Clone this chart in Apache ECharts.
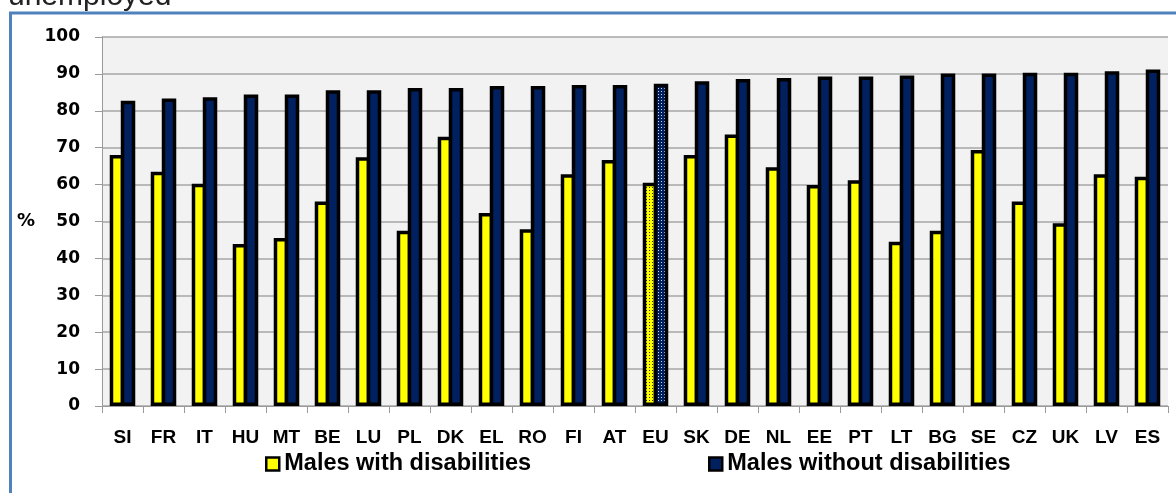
<!DOCTYPE html>
<html>
<head>
<meta charset="utf-8">
<script src="https://cdn.jsdelivr.net/npm/echarts@6/dist/echarts.min.js"></script>
<style>
html,body{margin:0;padding:0;background:#fff;}
#chart{width:1176px;height:493px;}
</style>
</head>
<body>
<div id="chart"></div>
<script>
const categories = ['SI','FR','IT','HU','MT','BE','LU','PL','DK','EL','RO','FI','AT','EU','SK','DE','NL','EE','PT','LT','BG','SE','CZ','UK','LV','ES'];
const withDisab = [68.0,63.5,60.2,43.9,45.5,55.4,67.4,47.5,73.0,52.3,47.9,62.8,66.7,60.5,68.0,73.6,64.7,59.9,61.2,44.5,47.5,69.4,55.4,49.5,62.8,62.1];
const withoutDisab = [82.7,83.3,83.7,84.4,84.4,85.6,85.6,86.2,86.2,86.7,86.7,87.0,87.0,87.3,88.0,88.6,88.9,89.3,89.3,89.6,90.1,90.1,90.3,90.3,90.7,91.2];
const yTicks = [0,10,20,30,40,50,60,70,80,90,100];
const seriesNames = ['Males with disabilities','Males without disabilities'];
const highlight = 'EU';

function pattern(bg, dot){
  const c = document.createElement('canvas');
  c.width = 3; c.height = 3;
  const g = c.getContext('2d');
  g.fillStyle = bg; g.fillRect(0,0,3,3);
  g.fillStyle = dot; g.fillRect(1,1,1,1);
  return {image: c, repeat: 'repeat'};
}
const YELLOW = '#ffff00', NAVY = '#002060';
const yellowPat = pattern(YELLOW, '#333300');
const navyPat = pattern(NAVY, '#c8d4ff');

function mk(vals, pat){
  return vals.map((v,i)=> categories[i]===highlight ? {value:v, itemStyle:{color:pat}} : v);
}

const chart = echarts.init(document.getElementById('chart'), null, {renderer:'canvas'});
const legendText = {fontFamily:'Liberation Sans, Arial, sans-serif', fontWeight:'bold', fontSize:23.5, color:'#000'};
const legendCommon = {icon:'rect', itemWidth:13, itemHeight:13, itemGap:0, padding:0,
  textStyle:legendText, itemStyle:{borderColor:'#000', borderWidth:2.5}};
chart.setOption({
  animation:false,
  backgroundColor:'#ffffff',
  grid:{left:102, right:8, top:37, bottom:87, show:true, backgroundColor:'#f2f2f2', borderWidth:0},
  xAxis:{
    type:'category', data:categories,
    axisLine:{show:true, lineStyle:{color:'#9a9a9a', width:1}},
    axisTick:{show:true, length:7, lineStyle:{color:'#9a9a9a'}},
    axisLabel:{margin:22, color:'#000', fontWeight:'bold', fontSize:19, fontFamily:'Liberation Sans, Arial, sans-serif', interval:0}
  },
  yAxis:{
    type:'value', min:0, max:100, interval:10,
    axisLine:{show:true, lineStyle:{color:'#9a9a9a'}},
    axisTick:{show:true, length:7, lineStyle:{color:'#9a9a9a'}},
    splitLine:{show:true, lineStyle:{color:'#a6a6a6', width:1.5}},
    axisLabel:{margin:22, color:'#000', fontWeight:'bold', fontSize:17, fontFamily:'DejaVu Sans, sans-serif',
      formatter:v=> yTicks.includes(v) ? String(v) : ''}
  },
  legend:[
    Object.assign({data:[seriesNames[0]], left:265, top:452}, legendCommon),
    Object.assign({data:[seriesNames[1]], left:708, top:452}, legendCommon)
  ],
  series:[
    {name:seriesNames[0], type:'bar', data:mk(withDisab, yellowPat), barWidth:14.5, barGap:'-24%',
      itemStyle:{color:YELLOW, borderColor:'#000', borderWidth:3.5}},
    {name:seriesNames[1], type:'bar', data:mk(withoutDisab, navyPat), barWidth:14.5, barGap:'-24%',
      itemStyle:{color:NAVY, borderColor:'#000', borderWidth:3.5}}
  ],
  graphic:[
    {type:'rect', shape:{x:10.5, y:13, width:1300, height:700}, style:{fill:'none', stroke:'#4f81bd', lineWidth:3}, silent:true},
    {type:'text', left:17, top:212, style:{text:'%', fontSize:18, fontWeight:'bold', fontFamily:'DejaVu Sans, sans-serif', fill:'#000'}},
    {type:'text', x:8, y:-18, style:{text:'unemployed', fontSize:30, fontFamily:'Liberation Sans, Arial, sans-serif', fill:'#222'}}
  ]
});
</script>
</body>
</html>
